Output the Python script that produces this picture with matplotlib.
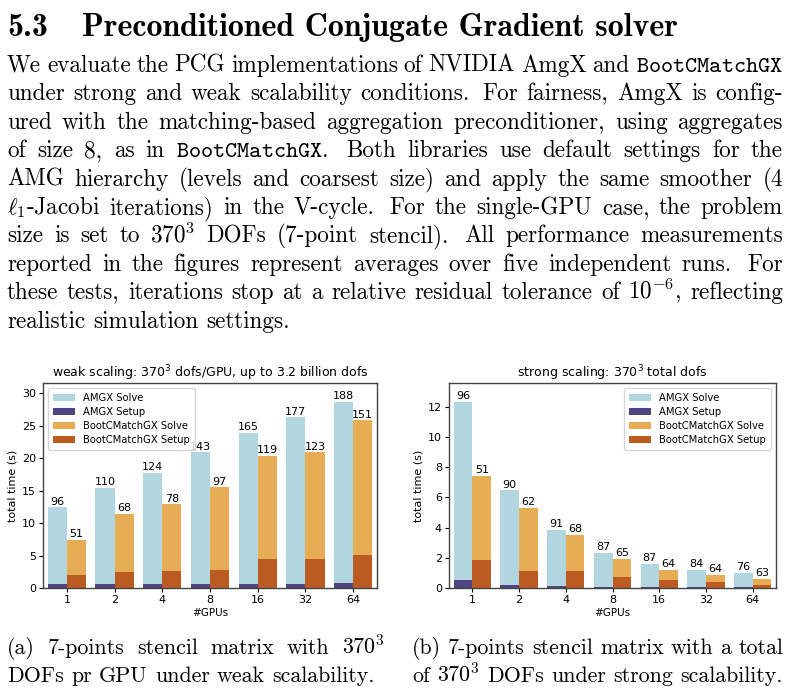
import numpy as np
import matplotlib
matplotlib.use('Agg')
import matplotlib.pyplot as plt

# Страница: заголовок, абзац, два графика, подписи
W, H = 790, 693
plt.rcParams['mathtext.fontset'] = 'cm'

# Данные (время в секундах, число итераций над столбцами)
gpus = ['1', '2', '4', '8', '16', '32', '64']

weak_amgx_total = [12.4, 15.4, 17.7, 20.9, 23.9, 26.3, 28.7]
weak_amgx_setup = [0.55, 0.55, 0.55, 0.55, 0.55, 0.55, 0.7]
weak_bcm_total = [7.4, 11.4, 12.9, 15.5, 20.3, 20.9, 25.8]
weak_bcm_setup = [1.95, 2.4, 2.55, 2.7, 4.4, 4.4, 5.15]
weak_amgx_iters = [96, 110, 124, 143, 165, 177, 188]
weak_bcm_iters = [51, 68, 78, 97, 119, 123, 151]

strong_amgx_total = [12.33, 6.47, 3.84, 2.33, 1.62, 1.2, 1.0]
strong_amgx_setup = [0.55, 0.22, 0.15, 0.09, 0.09, 0.05, 0.05]
strong_bcm_total = [7.4, 5.3, 3.52, 1.95, 1.2, 0.88, 0.62]
strong_bcm_setup = [1.87, 1.15, 1.15, 0.7, 0.5, 0.37, 0.23]
strong_amgx_iters = [96, 90, 91, 87, 87, 84, 76]
strong_bcm_iters = [51, 62, 68, 65, 64, 64, 63]

paragraph = [
    "We evaluate the PCG implementations of NVIDIA AmgX and $\\mathtt{BootCMatchGX}$",
    "under strong and weak scalability conditions. For fairness, AmgX is config-",
    "ured with the matching-based aggregation preconditioner, using aggregates",
    "of size 8, as in $\\mathtt{BootCMatchGX}$. Both libraries use default settings for the",
    "AMG hierarchy (levels and coarsest size) and apply the same smoother (4",
    "$\\ell_1$-Jacobi iterations) in the V-cycle. For the single-GPU case, the problem",
    "size is set to $370^3$ DOFs (7-point stencil). All performance measurements",
    "reported in the figures represent averages over five independent runs. For",
    "these tests, iterations stop at a relative residual tolerance of $10^{-6}$, reflecting",
    "realistic simulation settings.",
]
caption_a = ["(a) 7-points stencil matrix with $370^3$",
             "DOFs pr GPU under weak scalability."]
caption_b = ["(b) 7-points stencil matrix with a total",
             "of $370^3$ DOFs under strong scalability."]

c_amgx_solve = '#b2d6e0'
c_amgx_setup = '#4e4582'
c_bcm_solve = '#e6ad55'
c_bcm_setup = '#bb5b22'

fig = plt.figure(figsize=(W / 100, H / 100), dpi=100)
renderer = fig.canvas.get_renderer()

BODY = 16.7
CAPTION = 15.8


def put_line(line, x0, x1, y, size=BODY, family='cmr10', justify=True):
    words = line.split(' ')
    texts = [fig.text(0, 1 - y / H, w, fontsize=size, family=family,
                      va='baseline', ha='left') for w in words]
    widths = [t.get_window_extent(renderer).width for t in texts]
    weights = [1.5 if w.endswith('.') else 1.0 for w in words[:-1]]
    space = 0.333 * size * 100 / 72
    if justify and len(words) > 1:
        unit = (x1 - x0 - sum(widths)) / sum(weights)
    else:
        unit = space
    x = x0
    for i, (t, w) in enumerate(zip(texts, widths)):
        t.set_x(x / W)
        if i < len(weights):
            x += w + unit * weights[i]


# Заголовок раздела
fig.text(7 / W, 1 - 36 / H, '5.3', fontsize=23, family='cmb10', va='baseline')
fig.text(82 / W, 1 - 36 / H, 'Preconditioned Conjugate Gradient solver',
         fontsize=23, family='cmb10', va='baseline')

# Абзац
for i, line in enumerate(paragraph):
    put_line(line, 7, 783, 72 + i * 28.4, justify=(i < len(paragraph) - 1))

# Подписи
put_line(caption_a[0], 7, 385, 654, size=CAPTION)
put_line(caption_a[1], 7, 385, 682, size=CAPTION, justify=False)
put_line(caption_b[0], 412, 783, 654, size=CAPTION)
put_line(caption_b[1], 412, 783, 682, size=CAPTION, justify=False)


def chart(rect, title, amgx_total, amgx_setup, bcm_total, bcm_setup,
          amgx_iters, bcm_iters, yticks, legend_loc):
    l, t, r, b = rect
    ax = fig.add_axes([l / W, 1 - b / H, (r - l) / W, (b - t) / H])
    x = np.arange(len(gpus))
    b1 = ax.bar(x - 0.2, amgx_total, 0.4, color=c_amgx_solve, label='AMGX Solve')
    ax.bar(x - 0.2, amgx_setup, 0.4, color=c_amgx_setup, label='AMGX Setup')
    b3 = ax.bar(x + 0.2, bcm_total, 0.4, color=c_bcm_solve, label='BootCMatchGX Solve')
    ax.bar(x + 0.2, bcm_setup, 0.4, color=c_bcm_setup, label='BootCMatchGX Setup')
    ax.bar_label(b1, labels=[str(v) for v in amgx_iters], padding=0.5, fontsize=8)
    ax.bar_label(b3, labels=[str(v) for v in bcm_iters], padding=0.5, fontsize=8)
    ax.set_xlim(-0.5, len(gpus) - 0.5)
    ax.set_ylim(0, max(amgx_total) * 1.1)
    ax.set_xticks(x)
    ax.set_xticklabels(gpus)
    ax.set_yticks(yticks)
    ax.tick_params(labelsize=8, length=3, width=0.8, pad=2)
    for s in ax.spines.values():
        s.set_color('#444444')
        s.set_linewidth(1.0)
    ax.set_title(title, fontsize=9, pad=4, math_fontfamily='dejavusans')
    ax.set_xlabel('#GPUs', fontsize=7.5, labelpad=2)
    ax.set_ylabel('total time (s)', fontsize=8, labelpad=3)
    ax.legend(loc=legend_loc, fontsize=7.2, handlelength=2.2, borderpad=0.5,
              labelspacing=0.4)
    return ax


chart((43, 383, 377, 588), 'weak scaling: $370^3$ dofs/GPU, up to 3.2 billion dofs',
      weak_amgx_total, weak_amgx_setup, weak_bcm_total, weak_bcm_setup,
      weak_amgx_iters, weak_bcm_iters, range(0, 31, 5), 'upper left')
chart((449, 383, 776, 588), 'strong scaling: $370^3$ total dofs',
      strong_amgx_total, strong_amgx_setup, strong_bcm_total, strong_bcm_setup,
      strong_amgx_iters, strong_bcm_iters, range(0, 13, 2), 'upper right')

fig.savefig('out.png', dpi=100)
